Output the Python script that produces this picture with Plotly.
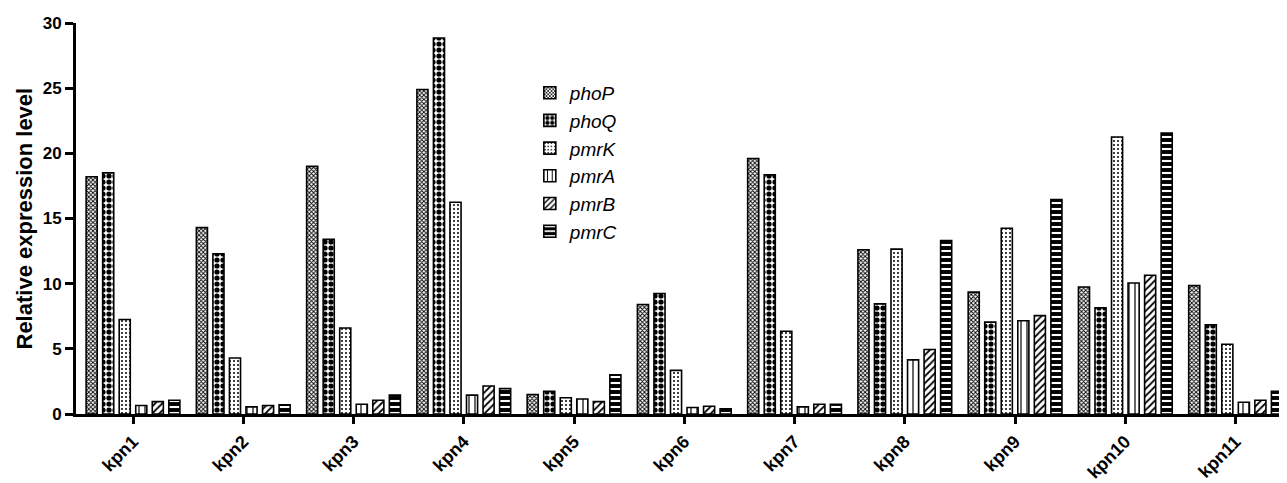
import plotly.graph_objects as go

categories = ["kpn1", "kpn2", "kpn3", "kpn4", "kpn5", "kpn6", "kpn7", "kpn8", "kpn9", "kpn10", "kpn11"]
phoP = [18.2, 14.3, 19.0, 24.9, 1.5, 8.4, 19.6, 12.6, 9.35, 9.75, 9.85]
phoQ = [18.5, 12.3, 13.4, 28.85, 1.75, 9.25, 18.35, 8.45, 7.05, 8.15, 6.85]
pmrK = [7.25, 4.3, 6.6, 16.25, 1.25, 3.35, 6.35, 12.65, 14.25, 21.25, 5.35]
pmrA = [0.65, 0.55, 0.75, 1.45, 1.15, 0.5, 0.55, 4.15, 7.15, 10.05, 0.9]
pmrB = [0.95, 0.65, 1.05, 2.15, 0.95, 0.6, 0.75, 4.95, 7.55, 10.65, 1.05]
pmrC = [1.05, 0.7, 1.45, 1.95, 3.0, 0.4, 0.75, 13.3, 16.45, 21.55, 1.75]

series = [
    ("phoP", phoP, dict(shape="x", size=3, solidity=0.5)),
    ("phoQ", phoQ, dict(shape=".", size=6, solidity=0.6)),
    ("pmrK", pmrK, dict(shape=".", size=4, solidity=0.2)),
    ("pmrA", pmrA, dict(shape="|", size=6, solidity=0.2)),
    ("pmrB", pmrB, dict(shape="/", size=5, solidity=0.35)),
    ("pmrC", pmrC, dict(shape="-", size=6, solidity=0.65)),
]

FONT = "Liberation Sans, Arial, sans-serif"

fig = go.Figure()
for name, vals, pat in series:
    fig.add_trace(go.Bar(
        x=categories, y=vals, name=name,
        marker=dict(
            color="white",
            line=dict(color="black", width=1.6),
            pattern=dict(fgcolor="black", bgcolor="white", fillmode="replace", **pat),
        ),
    ))

fig.add_annotation(
    text="Relative expression level", textangle=-90,
    xref="paper", yref="paper", x=0, y=0.5, xanchor="center", yanchor="middle",
    xshift=-52, showarrow=False,
    font=dict(size=22, family=FONT, weight="bold", color="black"),
)

# page body has an 8px default margin, so the figure is offset by 8px
fig.update_layout(
    width=1279, height=475,
    margin=dict(l=68, r=4, t=15, b=69),
    paper_bgcolor="white", plot_bgcolor="white",
    barmode="group", bargap=0.10, bargroupgap=0.33,
    font=dict(family=FONT, color="black"),
    showlegend=True,
    legend=dict(
        x=0.376, y=0.87, xanchor="left", yanchor="top",
        font=dict(size=19, style="italic", family=FONT),
        bgcolor="rgba(0,0,0,0)", tracegroupgap=0, itemwidth=30,
    ),
    xaxis=dict(
        range=[-0.517, 10.43], automargin=False,
        showline=True, linecolor="black", linewidth=3,
        ticks="outside", ticklen=7, tickwidth=3, tickcolor="black",
        tickangle=-45, tickfont=dict(size=18, family=FONT, weight="bold"),
        showgrid=False, zeroline=False,
    ),
    yaxis=dict(
        range=[0, 30], tickvals=[0, 5, 10, 15, 20, 25, 30], automargin=False,
        showline=True, linecolor="black", linewidth=3,
        ticks="outside", ticklen=8, tickwidth=3, tickcolor="black",
        tickfont=dict(size=17, family=FONT, weight="bold"),
        showgrid=False, zeroline=False,
    ),
)

fig.write_html("out.html")
